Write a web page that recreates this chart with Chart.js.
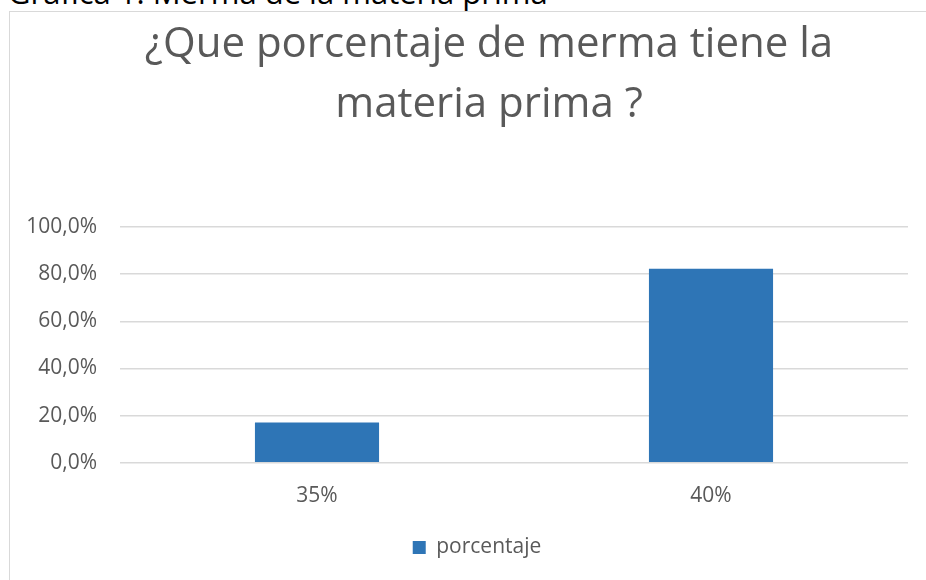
<!DOCTYPE html>
<html>
<head>
<meta charset="utf-8">
<script src="https://cdn.jsdelivr.net/npm/chart.js@4"></script>
<style>
  html, body { margin: 0; padding: 0; background: #fff; overflow: hidden; }
  body { width: 926px; height: 580px; position: relative; }
  /* caption above the chart, mostly cut off at the top */
  #caption {
    position: absolute; left: 8px; top: -23px; line-height: 30px;
    font-family: "Open Sans", sans-serif; font-size: 31px; color: #000;
    white-space: nowrap;
  }
  #frame {
    position: absolute; left: 9px; top: 11px; width: 960px; height: 620px;
    border: 1px solid #d9d9d9; box-sizing: border-box;
  }
  #chart { position: absolute; left: 0; top: 0; }
</style>
</head>
<body>
<div id="caption">Gráfica 1: Merma de la materia prima</div>
<div id="frame"></div>
<canvas id="chart" width="926" height="580"></canvas>
<script>
  // data
  const categories = ['35%', '40%'];
  const porcentaje = [17.1, 82.3];
  const yTickLabels = ['0,0%', '20,0%', '40,0%', '60,0%', '80,0%', '100,0%'];
  const titleLines = ['¿Que porcentaje de merma tiene la', 'materia prima ?'];

  const textColor = '#595959';
  const font = 'Open Sans';

  // the frame runs past the right edge of the page, so title and legend
  // sit right of the canvas centre; nudge their boxes after layout
  const shiftBoxes = {
    id: 'shiftBoxes',
    afterLayout(chart) {
      const t = chart.titleBlock, l = chart.legend;
      if (t) { t.left += 35; t.right += 35; }
      if (l) { l.left += 23; l.right += 23; }
    }
  };

  new Chart(document.getElementById('chart'), {
    type: 'bar',
    data: {
      labels: categories,
      datasets: [{
        label: 'porcentaje',
        data: porcentaje,
        backgroundColor: '#2e75b6',
        categoryPercentage: 1,
        barPercentage: 0.315
      }]
    },
    plugins: [shiftBoxes],
    options: {
      responsive: false,
      animation: false,
      layout: { padding: { left: 0, right: 18, top: 0, bottom: 12 } },
      plugins: {
        tooltip: { enabled: false },
        title: {
          display: true,
          text: titleLines,
          color: textColor,
          font: { family: font, size: 42, weight: 'normal', lineHeight: 1.428 },
          padding: { top: 15, bottom: 92 }
        },
        legend: {
          position: 'bottom',
          labels: {
            color: textColor,
            font: { family: font, size: 21 },
            boxWidth: 13,
            boxHeight: 13,
            padding: 10
          }
        }
      },
      scales: {
        x: {
          grid: { display: false },
          border: { display: false },
          afterFit: (scale) => { scale.height += 5; },
          ticks: { color: textColor, font: { family: font, size: 21 }, padding: 13 }
        },
        y: {
          min: 0,
          max: 100,
          afterFit: (scale) => { scale.width = 120; },
          grid: { color: '#d9d9d9', lineWidth: 1.5, drawTicks: false },
          border: { display: false },
          ticks: {
            stepSize: 20,
            padding: 23,
            color: textColor,
            font: { family: font, size: 21 },
            callback: (v, i) => yTickLabels[i]
          }
        }
      }
    }
  });
</script>
</body>
</html>
